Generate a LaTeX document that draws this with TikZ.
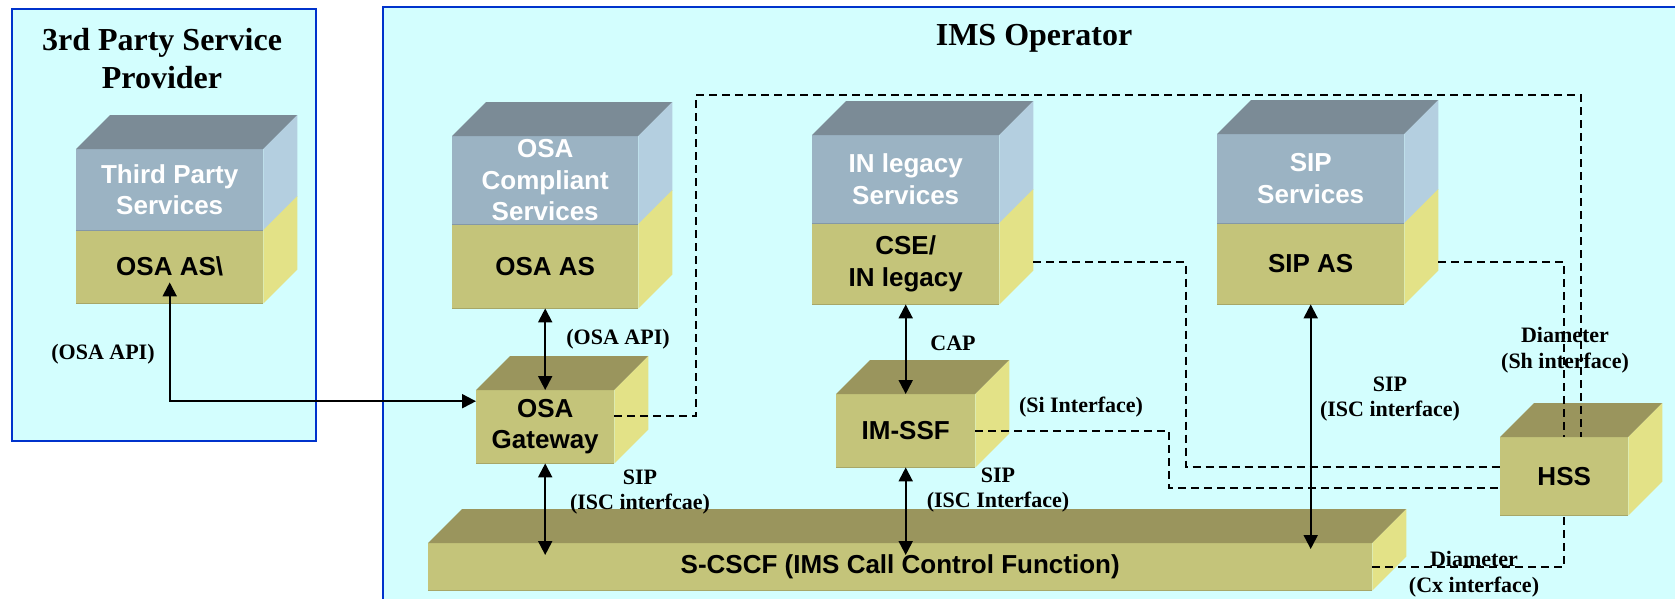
\documentclass[tikz,border=0pt]{standalone}
\usepackage{fontspec}
\setmainfont{Liberation Serif}
\newfontfamily\boxfont{Liberation Sans}
\usetikzlibrary{arrows.meta,calc}
\definecolor{bgcyan}{RGB}{211,254,254}
\definecolor{panelblue}{RGB}{0,51,204}
\definecolor{svtop}{RGB}{123,139,150}
\definecolor{svfront}{RGB}{155,179,195}
\definecolor{svside}{RGB}{180,207,224}
\definecolor{asfront}{RGB}{196,196,122}
\definecolor{asside}{RGB}{227,226,135}
\definecolor{astop}{RGB}{154,149,93}
\tikzset{
  svface/.style={fill=svfront, text=white, font=\boxfont\bfseries\fontsize{26}{31.5}\selectfont, align=center, inner sep=0pt, anchor=north west},
  asface/.style={fill=asfront, text=black, font=\boxfont\bfseries\fontsize{26}{31.5}\selectfont, align=center, inner sep=0pt, anchor=north west},
  lbl/.style={font=\bfseries\fontsize{22}{25.5}\selectfont, align=center, inner sep=0pt},
  ttl/.style={font=\bfseries\fontsize{32}{38}\selectfont, align=center, inner sep=0pt},
  conn/.style={line width=2pt, {Triangle[width=14pt,length=14pt]}-{Triangle[width=14pt,length=14pt]}},
  dashline/.style={line width=1.8pt, dash pattern=on 8pt off 5pt},
  panel/.style={fill=bgcyan, draw=panelblue, line width=2.2pt},
}
\newcommand\twotone[3]{%
  \fill[svtop] (#1.north west) -- ++(#3,-#3) -- ($(#1.north east)+(#3,-#3)$) -- (#1.north east) -- cycle;
  \fill[svside] (#1.north east) -- ++(#3,-#3) -- ($(#1.south east)+(#3,-#3)$) -- (#1.south east) -- cycle;
  \fill[asside] (#2.north east) -- ++(#3,-#3) -- ($(#2.south east)+(#3,-#3)$) -- (#2.south east) -- cycle;
  \draw[line width=1.2pt, svfront!85!black] (#1.south west) -- (#1.south east);
  \draw[line width=1.2pt, asfront!85!black] (#2.south west) -- (#2.south east);
}
\newcommand\olivecube[2]{%
  \fill[astop] (#1.north west) -- ++(#2,-#2) -- ($(#1.north east)+(#2,-#2)$) -- (#1.north east) -- cycle;
  \fill[asside] (#1.north east) -- ++(#2,-#2) -- ($(#1.south east)+(#2,-#2)$) -- (#1.south east) -- cycle;
  \draw[line width=1.2pt, asfront!85!black] (#1.south west) -- (#1.south east);
}
\begin{document}
\begin{tikzpicture}[x=1pt,y=-1pt]
\clip (0,0) rectangle (1675,598);
\fill[white] (0,0) rectangle (1675,598);
% panels
\draw[panel] (12,9) rectangle (316,441);
\draw[panel] (383,7) rectangle (1720,640);
\node[ttl] (t3rd) at (162,59) {3rd Party Service\\Provider};
\node[ttl] (tims) at (1034,38) {IMS Operator};
% service cubes
\node[svface, minimum width=187pt, minimum height=81pt] (tpsv) at (76,149) {Third Party\\Services};
\node[asface, minimum width=187pt, minimum height=73pt] (tpas) at (76,230) {OSA AS\textbackslash};
\twotone{tpsv}{tpas}{34}
\node[svface, minimum width=186pt, minimum height=88pt] (osasv) at (452,136) {OSA\\Compliant\\Services};
\node[asface, minimum width=186pt, minimum height=84pt] (osaas) at (452,224) {OSA AS};
\twotone{osasv}{osaas}{34}
\node[svface, minimum width=187pt, minimum height=88pt] (insv) at (812,135) {IN legacy\\Services};
\node[asface, minimum width=187pt, minimum height=81pt] (cse) at (812,223) {CSE/\\IN legacy};
\twotone{insv}{cse}{34}
\node[svface, minimum width=187pt, minimum height=89pt] (sipsv) at (1217,134) {SIP\\Services};
\node[asface, minimum width=187pt, minimum height=81pt] (sipas) at (1217,223) {SIP AS};
\twotone{sipsv}{sipas}{34}
% olive cubes
\node[asface, minimum width=138pt, minimum height=73pt] (gw) at (476,390) {OSA\\Gateway};
\olivecube{gw}{34}
\node[asface, minimum width=139pt, minimum height=73pt] (imssf) at (836,394) {IM-SSF};
\olivecube{imssf}{34}
\node[asface, minimum width=128pt, minimum height=78pt] (hss) at (1500,437) {HSS};
\olivecube{hss}{34}
\node[asface, minimum width=944pt, minimum height=47pt] (scscf) at (428,543) {S-CSCF (IMS Call Control Function)};
\olivecube{scscf}{34}
% helper coordinates
\coordinate (scscfA) at ([yshift=-12pt]scscf.north);
\coordinate (scscfB) at ([yshift=-6pt]scscf.north);
\coordinate (bendA) at (696,95);
\coordinate (bendC) at (1186,467);
\coordinate (bendD) at (1169,488);
% dashed connectors
\draw[dashline] ([yshift=10.5pt]gw.east) -| (bendA) -| ([xshift=17pt]hss.north);
\draw[dashline] ([xshift=34pt,yshift=1.5pt]sipas.east) -| (hss.north);
\draw[dashline] ([xshift=34pt,yshift=1.5pt]cse.east) -| (bendC) -- (bendC -| hss.west);
\draw[dashline] (imssf.east) -| (bendD) -- (bendD -| hss.west);
\draw[dashline] (scscf.east) -| (hss.south);
% solid connectors
\draw[conn] ([yshift=21pt]tpas.south) |- ([yshift=25.5pt]gw.west);
\draw[conn] (osaas.south) -- (gw.north);
\draw[conn] (gw.south) -- (gw.south |- scscfA);
\draw[conn] (cse.south) -- (imssf.north);
\draw[conn] (imssf.south) -- (imssf.south |- scscfA);
\draw[conn] (sipas.south) -- (sipas.south |- scscfB);
% labels
\node[lbl] (l1) at (103,354) {(OSA API)};
\node[lbl] (l2) at (618,339) {(OSA API)};
\node[lbl] (l3) at (640,492) {SIP\\(ISC interfcae)};
\node[lbl] (l4) at (953,343) {CAP};
\node[lbl] (l5) at (1081,407) {(Si Interface)};
\node[lbl] (l6) at (998,490) {SIP\\(ISC Interface)};
\node[lbl] (l7) at (1390,399) {SIP\\(ISC interface)};
\node[lbl] (l8) at (1565,350) {Diameter\\(Sh interface)};
\node[lbl] (l9) at (1474,574) {Diameter\\(Cx interface)};
\end{tikzpicture}
\end{document}
